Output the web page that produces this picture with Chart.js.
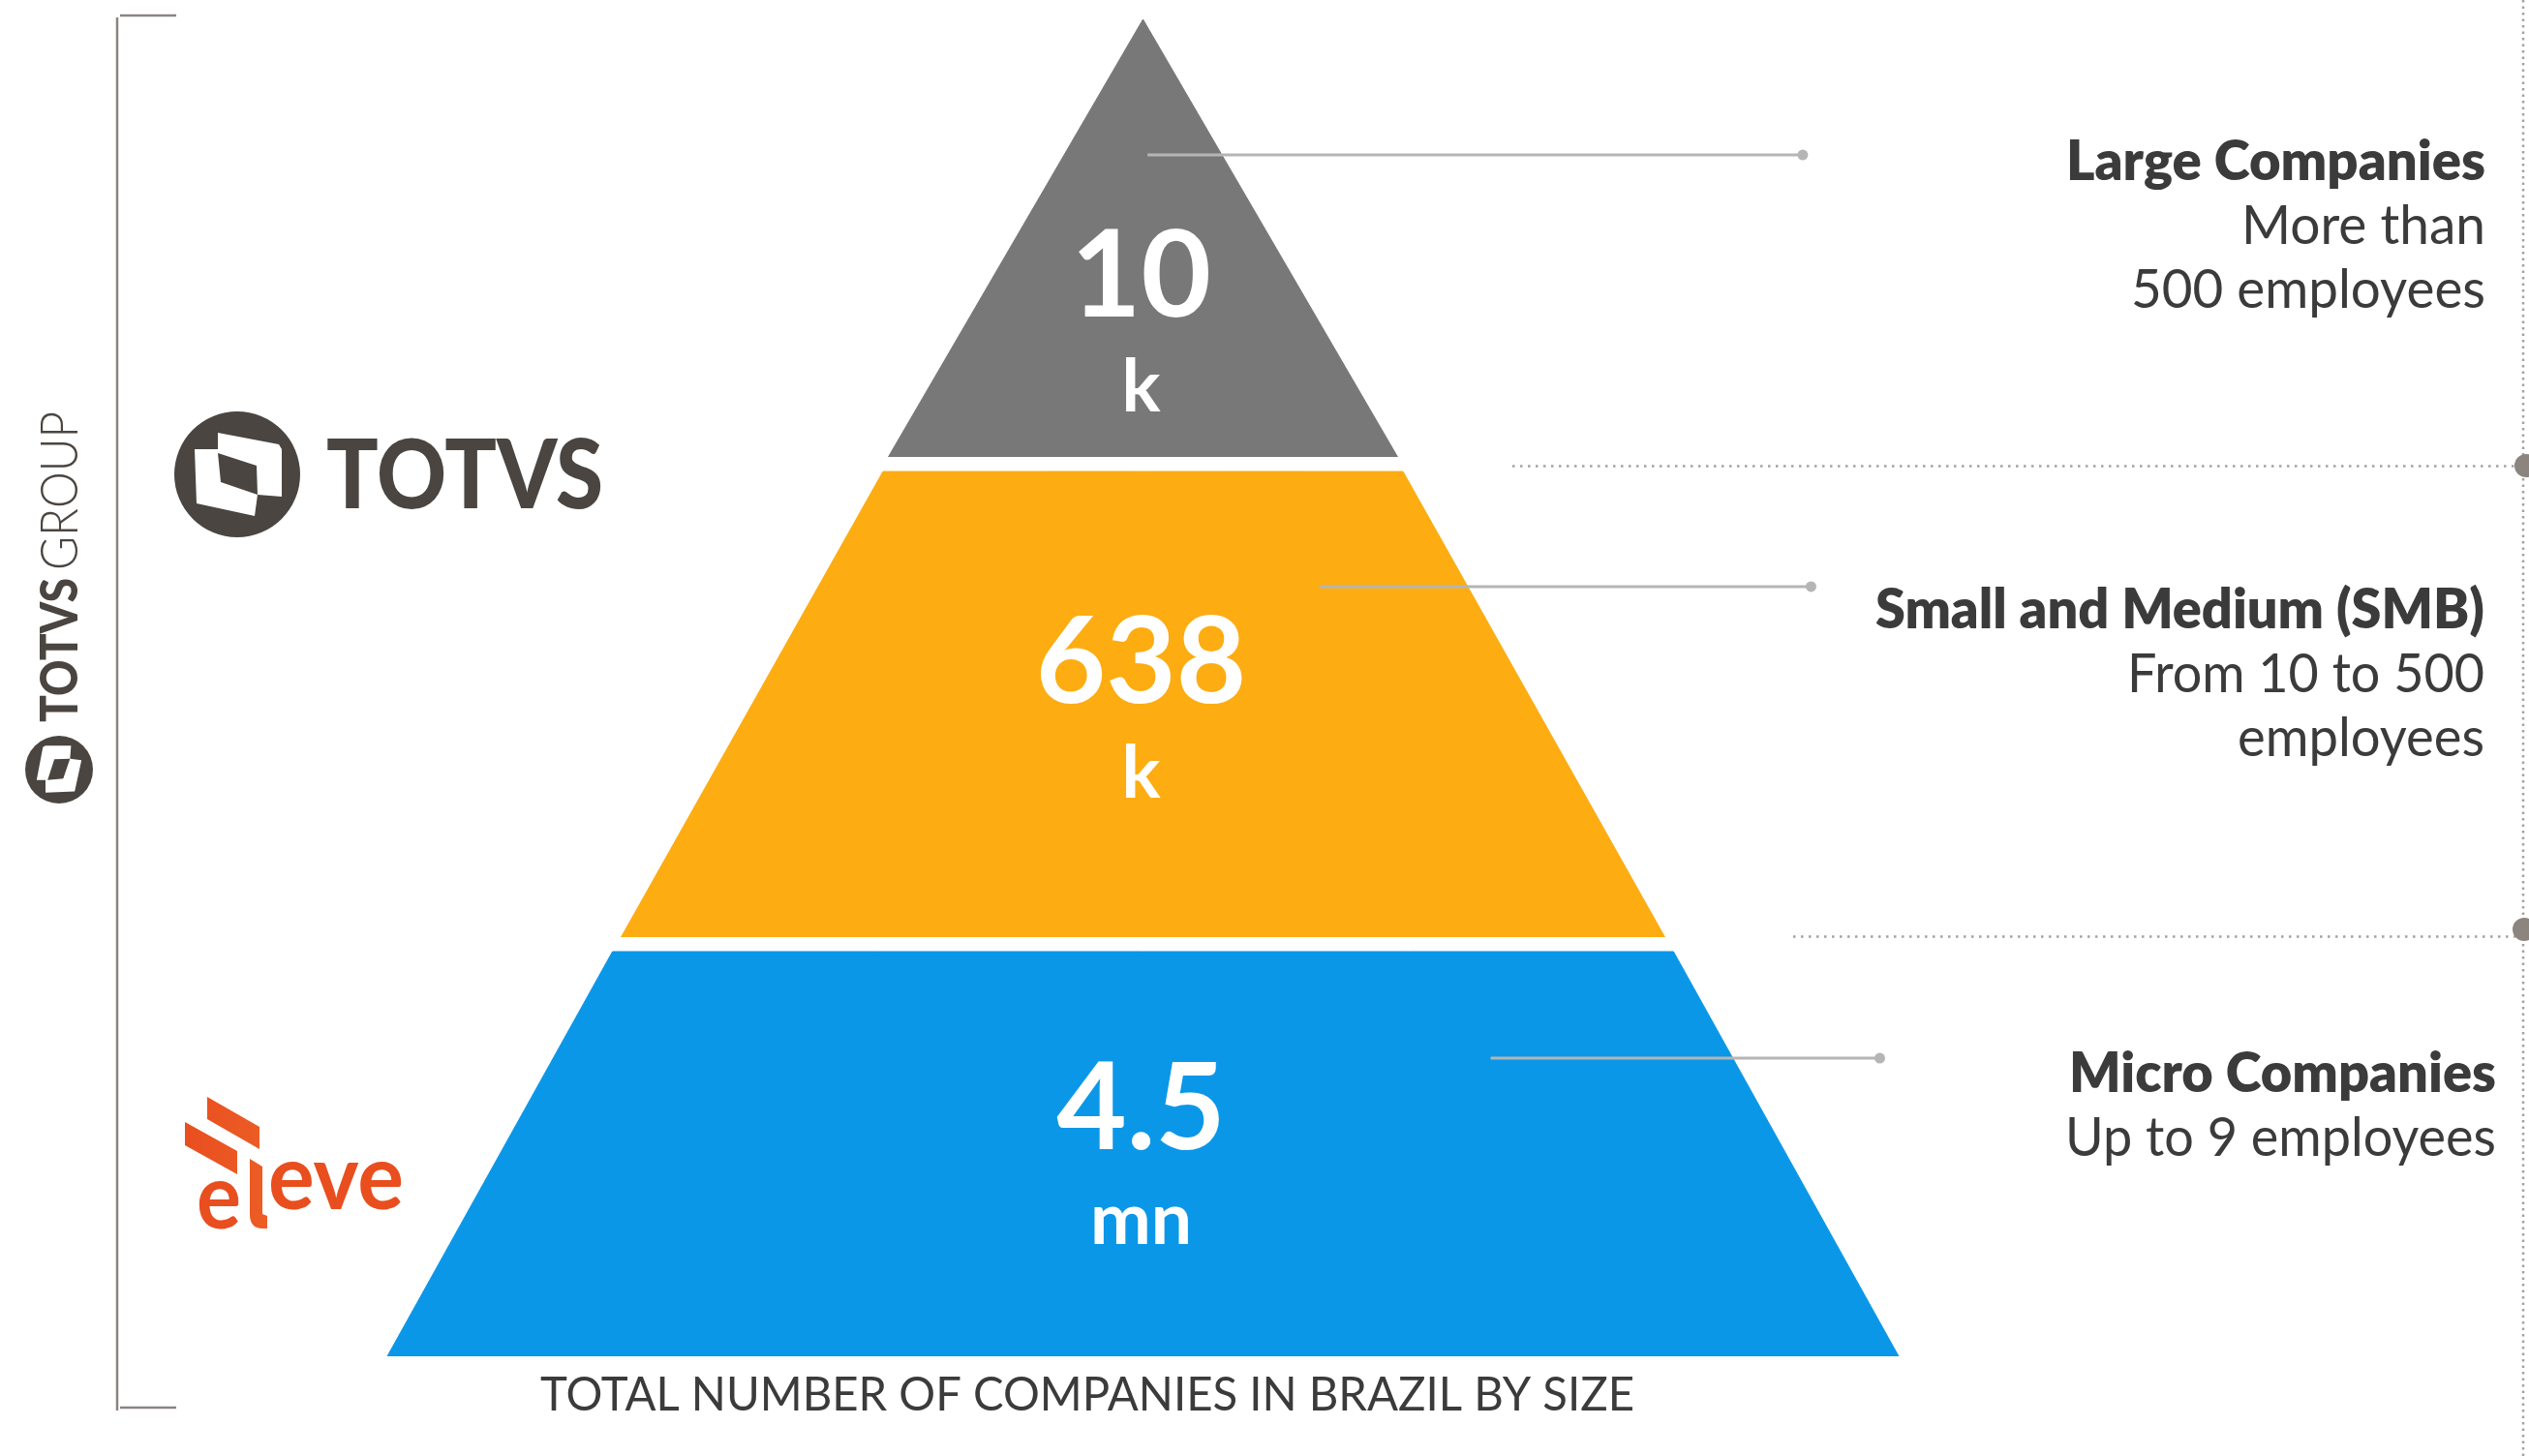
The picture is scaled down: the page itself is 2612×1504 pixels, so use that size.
<!DOCTYPE html>
<html>
<head>
<meta charset="utf-8">
<script src="https://cdn.jsdelivr.net/npm/chart.js@4.4.0/dist/chart.umd.min.js"></script>
<style>
  html, body { margin: 0; padding: 0; background: #fff; }
  #wrap { position: relative; width: 2612px; height: 1504px; }
</style>
</head>
<body>
<div id="wrap"><canvas id="myChart"></canvas></div>
<script>
// the data
const categories = ['Large Companies', 'Small and Medium (SMB)', 'Micro Companies'];
const descriptions = [['More than', '500 employees'], ['From 10 to 500', 'employees'], ['Up to 9 employees']];
const values = [10, 638, 4.5];
const units = ['k', 'k', 'mn'];
const caption = 'TOTAL NUMBER OF COMPANIES IN BRAZIL BY SIZE';

// pyramid shape, x = half width (-1..1), y = height from base (0..1)
// [bottom y, top y, half width at bottom, half width at top]
const bands = [[0.6727, 1, 0.337, 0], [0.3135, 0.6618, 0.6906, 0.344], [0, 0.3027, 1, 0.702]];
const colors = ['#787878', '#fdac12', '#0b97e8'];
const numberY = [0.7777, 0.4888, 0.155];
const leaderY = [0.8986, 0.5757, 0.223];
const leaderX = [[0.006, 0.873], [0.234, 0.884], [0.46, 0.975]];
const separatorY = [0.6662, 0.3143];

// right side label layout (pixels)
const labelRight = [2567, 2566, 2578];
const titleBase = [186, 649, 1128];
const titleWidth = [433, 629, 441];
const subWidth = [[252, 366], [369, 255], [445]];
const lineGap = 66;

const dark = '#3b3b3b';
const logoGray = '#4a4541';

// building the datasets
let datasets = [];
for (let i = 0; i < categories.length; i++) {
  let b = bands[i];
  let pts = [{x: -b[2], y: b[0]}, {x: -b[3], y: b[1]}];
  if (b[3] > 0) pts.push({x: b[3], y: b[1]});
  pts.push({x: b[2], y: b[0]});
  datasets.push({
    label: categories[i],
    data: pts,
    fill: {value: b[0]},
    backgroundColor: colors[i],
    borderColor: colors[i],
    borderWidth: 1,
    pointRadius: 0,
    order: 2,
    clip: false
  });
}
for (let i = 0; i < categories.length; i++) {
  datasets.push({
    label: categories[i] + ' line',
    data: [{x: leaderX[i][0], y: leaderY[i]}, {x: leaderX[i][1], y: leaderY[i]}],
    fill: false,
    borderColor: '#b5b5b5',
    borderWidth: 3,
    pointRadius: [0, 5.5],
    pointBackgroundColor: '#b5b5b5',
    pointBorderWidth: 0,
    order: 1,
    clip: false
  });
}

function fitText(c, text, x, y, font, width, align) {
  c.font = font;
  let w = c.measureText(text).width;
  let left = x;
  if (align === 'right') left = x - width;
  if (align === 'center') left = x - width / 2;
  c.save();
  c.translate(left, y);
  c.scale(width / w, 1);
  c.textAlign = 'left';
  c.textBaseline = 'alphabetic';
  c.fillText(text, 0, 0);
  c.restore();
}

function poly(c, pts) {
  c.beginPath();
  c.moveTo(pts[0][0], pts[0][1]);
  for (let i = 1; i < pts.length; i++) c.lineTo(pts[i][0], pts[i][1]);
  c.closePath();
  c.fill();
}

function totvsIcon(c, cx, cy, r, angle) {
  c.save();
  c.translate(cx, cy);
  c.rotate(angle);
  c.scale(r / 65, r / 65);
  c.fillStyle = logoGray;
  c.beginPath();
  c.arc(0, 0, 65, 0, Math.PI * 2);
  c.fill();
  c.fillStyle = '#fff';
  poly(c, [[-44, -26], [-20, -26], [-20, -43], [43, -31], [46, -26], [46, 23], [21, 21], [18, 43], [-42, 30]]);
  c.fillStyle = logoGray;
  poly(c, [[-20, -22], [20, -9], [21, 21], [-17, 8]]);
  c.restore();
}

const decor = {
  id: 'decor',
  beforeDraw(chart) {
    const c = chart.ctx;
    c.save();
    c.fillStyle = '#fff';
    c.fillRect(0, 0, chart.width, chart.height);
    c.restore();
  },
  afterDatasetsDraw(chart) {
    const c = chart.ctx;
    const xs = chart.scales.x, ys = chart.scales.y;
    const cx = xs.getPixelForValue(0);
    c.save();
    c.fillStyle = '#fff';
    c.textAlign = 'center';
    c.textBaseline = 'alphabetic';
    for (let i = 0; i < values.length; i++) {
      let y = ys.getPixelForValue(numberY[i]);
      c.font = '700 125px Lato';
      c.fillText(String(values[i]), cx - 2, y);
      c.font = '700 75px Lato';
      c.fillText(units[i], cx - 2, y + 98);
    }
    c.restore();
  },
  afterDraw(chart) {
    const c = chart.ctx;
    const ys = chart.scales.y;
    c.save();

    // dotted separators and right border
    c.strokeStyle = '#a3a3a3';
    c.lineWidth = 2.5;
    c.setLineDash([2.5, 5.5]);
    const sepStart = [1562, 1852];
    for (let i = 0; i < separatorY.length; i++) {
      let y = Math.round(ys.getPixelForValue(separatorY[i])) + 0.5;
      c.beginPath();
      c.moveTo(sepStart[i], y);
      c.lineTo(2598, y);
      c.stroke();
    }
    c.setLineDash([2.5, 4]);
    c.beginPath();
    c.moveTo(2606, 0);
    c.lineTo(2606, 1504);
    c.stroke();
    c.setLineDash([]);
    c.fillStyle = '#8c847e';
    c.beginPath(); c.arc(2609, 481, 12, 0, Math.PI * 2); c.fill();
    c.beginPath(); c.arc(2607, 960, 12, 0, Math.PI * 2); c.fill();

    // right labels
    c.fillStyle = dark;
    for (let i = 0; i < categories.length; i++) {
      fitText(c, categories[i], labelRight[i], titleBase[i], '800 56px Lato', titleWidth[i], 'right');
      for (let j = 0; j < descriptions[i].length; j++) {
        fitText(c, descriptions[i][j], labelRight[i], titleBase[i] + lineGap * (j + 1), '400 57px Lato', subWidth[i][j], 'right');
      }
    }

    // caption under the pyramid
    c.fillStyle = dark;
    fitText(c, caption, 558, 1457, '400 49px Lato', 1130, 'left');

    // left bracket
    c.strokeStyle = '#8b847f';
    c.lineWidth = 2.5;
    c.beginPath();
    c.moveTo(121, 18); c.lineTo(121, 1457);
    c.moveTo(124, 16); c.lineTo(182, 16);
    c.moveTo(124, 1454); c.lineTo(182, 1454);
    c.stroke();

    // vertical TOTVS GROUP
    c.save();
    c.translate(80, 746);
    c.rotate(-Math.PI / 2);
    c.fillStyle = logoGray;
    fitText(c, 'TOTVS', 0, 0, '900 53px Lato', 149, 'left');
    fitText(c, 'GROUP', 157, 0, '300 53px Lato', 164, 'left');
    c.restore();
    totvsIcon(c, 61, 795, 35, -Math.PI / 2);

    // TOTVS logo
    totvsIcon(c, 245, 490, 65, 0);
    c.fillStyle = logoGray;
    fitText(c, 'TOTVS', 337, 525, '900 100px Lato', 286, 'left');

    // eleve logo
    const g = c.createLinearGradient(190, 0, 420, 0);
    g.addColorStop(0, '#e94e1f');
    g.addColorStop(1, '#f2772f');
    c.fillStyle = g;
    poly(c, [[214, 1133], [268, 1164], [268, 1187], [214, 1156]]);
    poly(c, [[191, 1159], [245, 1189], [245, 1213], [191, 1183]]);
    fitText(c, 'e', 203, 1269, '700 93px Lato', 46, 'left');
    c.beginPath();
    c.moveTo(258, 1197);
    c.lineTo(271, 1205);
    c.lineTo(271, 1254);
    c.lineTo(276, 1256);
    c.lineTo(276, 1269);
    c.lineTo(271, 1269);
    c.quadraticCurveTo(258, 1269, 258, 1254);
    c.closePath();
    c.fill();
    fitText(c, 'eve', 277, 1249, '700 93px Lato', 140, 'left');

    c.restore();
  }
};

// creating the chart
var ctx = document.getElementById('myChart').getContext('2d');
var chart = new Chart(ctx, {
  type: 'line',
  data: { datasets },
  options: {
    responsive: true,
    maintainAspectRatio: false,
    animation: false,
    events: [],
    layout: { padding: { left: 400, right: 651, top: 20, bottom: 103 } },
    scales: {
      x: { type: 'linear', display: false, min: -1, max: 1 },
      y: { type: 'linear', display: false, min: 0, max: 1 }
    },
    plugins: {
      legend: { display: false },
      tooltip: { enabled: false }
    }
  },
  plugins: [decor]
});
</script>
</body>
</html>
